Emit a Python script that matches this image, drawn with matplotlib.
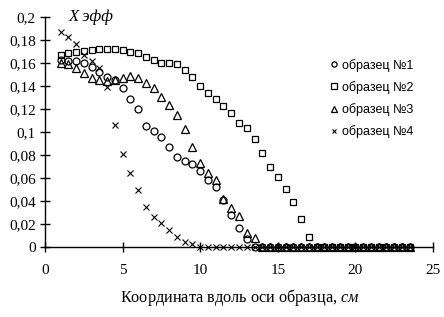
import matplotlib
matplotlib.use("Agg")
import matplotlib.pyplot as plt
import numpy as np

# x positions (cm), step 0.5 from 1 to 23.5
x_start, x_stop, x_step = 1.0, 23.5, 0.5

s1_vals = [0.162, 0.1617, 0.1615, 0.1595, 0.156, 0.152, 0.148, 0.145, 0.138, 0.128,
           0.120, 0.105, 0.1006, 0.0957, 0.0864, 0.0776, 0.0747, 0.0718, 0.0662, 0.0577,
           0.0515, 0.0406, 0.0276, 0.016, 0.0067]
s2_vals = [0.1667, 0.1687, 0.1696, 0.1704, 0.171, 0.1717, 0.1722, 0.1717, 0.171, 0.1696,
           0.168, 0.165, 0.1623, 0.1600, 0.1598, 0.1585, 0.1540, 0.148, 0.140, 0.134,
           0.128, 0.1223, 0.116, 0.1073, 0.1028, 0.094, 0.0817, 0.0696, 0.0609, 0.0502,
           0.0386, 0.0238, 0.0087]
s3_vals = [0.1595, 0.1586, 0.155, 0.1513, 0.147, 0.145, 0.144, 0.145, 0.1464, 0.1484,
           0.147, 0.1426, 0.1377, 0.1302, 0.1232, 0.1145, 0.1025, 0.0864, 0.0728, 0.0640,
           0.0577, 0.0412, 0.0334, 0.0267, 0.0117, 0.0078]
s4_vals = [0.187, 0.1826, 0.1763, 0.1667, 0.1615, 0.155, 0.1386, 0.1058, 0.081, 0.0638,
           0.0493, 0.0343, 0.0256, 0.0209, 0.0145, 0.0087, 0.0043, 0.002]

labels = ["образец №1", "образец №2", "образец №3", "образец №4"]
x_ticks = [0, 5, 10, 15, 20, 25]
y_ticks = [0, 0.02, 0.04, 0.06, 0.08, 0.1, 0.12, 0.14, 0.16, 0.18, 0.2]

x_all = np.arange(x_start, x_stop + 1e-9, x_step)


def full(vals):
    v = np.zeros(len(x_all))
    v[:len(vals)] = vals
    return v


plt.rcParams["mathtext.fontset"] = "custom"
plt.rcParams["mathtext.rm"] = "Liberation Serif"
plt.rcParams["mathtext.it"] = "Liberation Serif:italic"

fig = plt.figure(figsize=(4.44, 3.17), dpi=100)
ax = fig.add_axes([45 / 444, 1 - 246.7 / 317, 388 / 444, 230 / 317])

mk = dict(linestyle="none", markerfacecolor="none", markeredgecolor="black",
          markeredgewidth=0.9, clip_on=False)
ax.plot(x_all, full(s1_vals), marker="o", markersize=5, label=labels[0], **mk)
ax.plot(x_all, full(s2_vals), marker="s", markersize=5, label=labels[1], **mk)
ax.plot(x_all, full(s3_vals), marker="^", markersize=5.5, label=labels[2], **mk)
ax.plot(x_all, full(s4_vals), marker="x", markersize=4.5, color="black",
        linestyle="none", markeredgewidth=0.8, label=labels[3], clip_on=False)

ax.set_xlim(0, 25)
ax.set_ylim(0, 0.2)
for s in ["top", "right"]:
    ax.spines[s].set_visible(False)
ax.spines["left"].set_linewidth(1.0)
ax.spines["bottom"].set_linewidth(1.0)

serif = "Liberation Serif"
ax.set_xticks(x_ticks)
ax.set_yticks(y_ticks)
ax.set_xticklabels([str(t) for t in x_ticks], fontfamily=serif, fontsize=11)
ax.set_yticklabels([("%g" % t).replace(".", ",") for t in y_ticks],
                   fontfamily=serif, fontsize=11)
ax.tick_params(axis="both", direction="inout", length=7, width=1.0, color="black")
ax.tick_params(axis="x", pad=9)
ax.tick_params(axis="y", pad=3)

ax.text(1.5, 0.2, "Х эфф", fontfamily=serif, fontstyle="italic", fontsize=12,
        ha="left", va="center")

fig.text(240 / 444, 1 - 297 / 317,
         "Координата вдоль оси образца, $\\mathit{см}$",
         ha="center", va="center", fontfamily=serif, fontsize=11.7)

leg = ax.legend(loc="upper left", bbox_to_anchor=(0.72, 0.845), frameon=False,
                prop={"family": "Liberation Sans", "size": 9},
                handlelength=0.6, handletextpad=0.3, labelspacing=0.75,
                borderpad=0, markerscale=0.75)

fig.savefig("out.png", dpi=100)
